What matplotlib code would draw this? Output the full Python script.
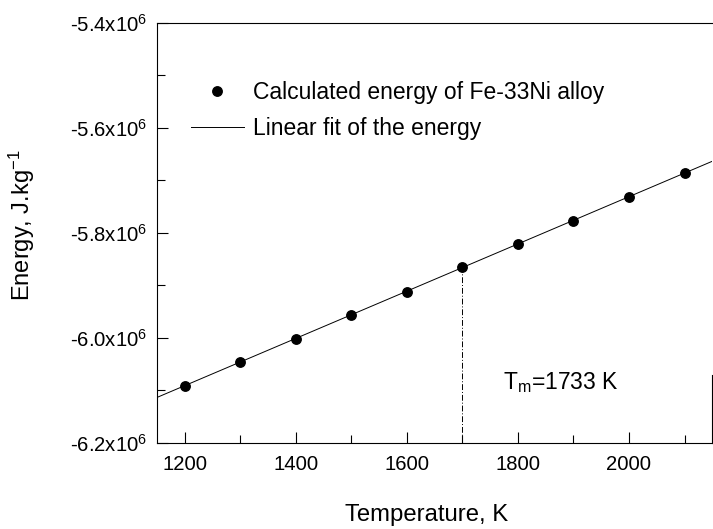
import numpy as np
import matplotlib.pyplot as plt
from matplotlib.ticker import MultipleLocator, FuncFormatter

plt.rcParams['font.family'] = ['Liberation Sans', 'DejaVu Sans']
plt.rcParams['mathtext.fontset'] = 'custom'
plt.rcParams['mathtext.rm'] = 'Liberation Sans'
plt.rcParams['mathtext.it'] = 'Liberation Sans'

temperature = [1200, 1300, 1400, 1500, 1600, 1700, 1800, 1900, 2000, 2100]
energy = [-6.091e6, -6.046e6, -6.002e6, -5.956e6, -5.912e6,
          -5.865e6, -5.822e6, -5.777e6, -5.731e6, -5.686e6]
t_melt_label = 1700

slope, icept = np.polyfit(temperature, energy, 1)
t_fit = np.array([1150, 2150])

fig = plt.figure(figsize=(7.13, 5.29), dpi=100)
ax = fig.add_axes([0.220, 0.163, 0.779, 0.794])

ax.plot(t_fit, slope * t_fit + icept, color='black', lw=0.7,
        label='Linear fit of the energy')
ax.plot(temperature, energy, 'o', color='black', ms=6.8,
        label='Calculated energy of Fe-33Ni alloy')

e_melt = energy[temperature.index(t_melt_label)]
ax.plot([t_melt_label, t_melt_label], [-6.2e6, e_melt], color='black',
        lw=0.7, ls=(0, (6, 2, 1, 2)))
ax.text(1774, -6.086e6, 'T$_{\\mathrm{m}}$=1733 K', fontsize=16.5, va='center')

ax.set_xlim(1150, 2150)
ax.set_ylim(-6.2e6, -5.4e6)
ax.xaxis.set_major_locator(MultipleLocator(200))
ax.xaxis.set_minor_locator(MultipleLocator(100))
ax.yaxis.set_major_locator(MultipleLocator(0.2e6))
ax.yaxis.set_minor_locator(MultipleLocator(0.1e6))
ax.yaxis.set_major_formatter(FuncFormatter(lambda v, p: f'{v/1e6:.1f}x10$^6$'))
ax.tick_params(which='both', direction='in', labelsize=14.6, width=0.8)
ax.tick_params(which='major', length=8)
ax.tick_params(which='minor', length=6)
ax.tick_params(axis='x', pad=9)
ax.tick_params(axis='y', pad=7)
ax.spines['right'].set_bounds(-6.2e6, -6.07e6)

ax.set_xlabel('Temperature, K', fontsize=17.2)
ax.xaxis.set_label_coords(0.485, -0.145)
ax.set_ylabel('Energy, J.kg$^{-1}$', fontsize=17)
ax.yaxis.set_label_coords(-0.216, 0.519)

h, l = ax.get_legend_handles_labels()
ax.legend(h[::-1], l[::-1], loc='upper left', bbox_to_anchor=(0.045, 0.883),
          frameon=False, fontsize=16.5, handlelength=2.3, labelspacing=0.55,
          handletextpad=0.4, borderaxespad=0)

fig.savefig('out.png', dpi=100)
